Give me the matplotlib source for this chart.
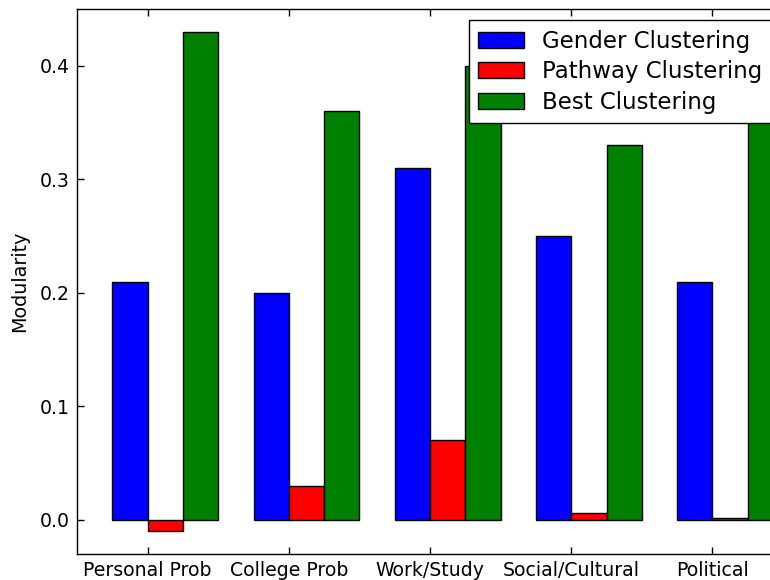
import matplotlib
matplotlib.use("Agg")
import matplotlib.pyplot as plt
import numpy as np

categories = ["Personal Prob", "College Prob", "Work/Study", "Social/Cultural", "Political"]
gender = [0.21, 0.20, 0.31, 0.25, 0.21]
pathway = [-0.01, 0.03, 0.07, 0.006, 0.0015]
best = [0.43, 0.36, 0.40, 0.33, 0.37]
series_names = ["Gender Clustering", "Pathway Clustering", "Best Clustering"]

plt.rcParams["font.family"] = ["DejaVu Sans"]
plt.rcParams["xtick.direction"] = "in"
plt.rcParams["ytick.direction"] = "in"

fig = plt.figure(figsize=(7.7, 5.8), dpi=100)
# axes extends a little past the right edge of the canvas
ax = fig.add_axes([77 / 770, 26 / 580, 706 / 770, 545 / 580])

ind = np.arange(len(categories))
width = 0.25
ax.bar(ind, gender, width, align="edge", color="b", edgecolor="k", linewidth=1, label=series_names[0])
ax.bar(ind + width, pathway, width, align="edge", color="r", edgecolor="k", linewidth=1, label=series_names[1])
ax.bar(ind + 2 * width, best, width, align="edge", color="g", edgecolor="k", linewidth=1, label=series_names[2])

ax.set_xlim(-0.25, 4.75)
ax.set_ylim(-0.03, 0.45)
ax.set_xticks(ind + width)
ax.set_xticklabels(categories, fontsize=13.6)
ax.set_yticks([0.0, 0.1, 0.2, 0.3, 0.4])
ax.set_yticklabels(["0.0", "0.1", "0.2", "0.3", "0.4"], fontsize=13.6)
ax.tick_params(top=True, right=True, length=5, width=1, pad=5)
ax.set_ylabel("Modularity", fontsize=13.8, labelpad=8)
for s in ax.spines.values():
    s.set_linewidth(1)

leg = ax.legend(loc="upper right", fontsize=16.5, fancybox=False, framealpha=1,
                edgecolor="k", borderaxespad=0.5, handlelength=2.0,
                handleheight=0.7, handletextpad=0.8, borderpad=0.4, labelspacing=0.33)
leg.get_frame().set_linewidth(1)

fig.savefig("out.png", dpi=100, facecolor="white")
